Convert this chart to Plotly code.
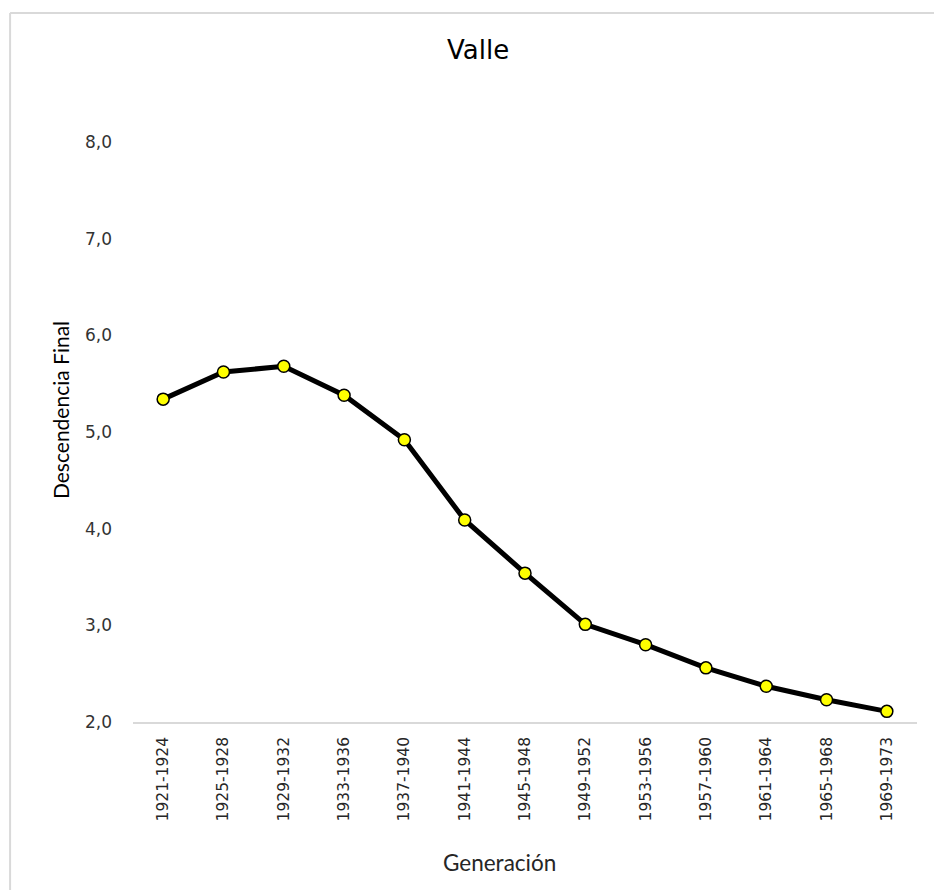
import plotly.graph_objects as go

# Cohort groups (generation) and completed fertility
generaciones = ["1921-1924", "1925-1928", "1929-1932", "1933-1936", "1937-1940",
                "1941-1944", "1945-1948", "1949-1952", "1953-1956", "1957-1960",
                "1961-1964", "1965-1968", "1969-1973"]
descendencia = [5.34, 5.62, 5.68, 5.38, 4.92, 4.09, 3.54, 3.01, 2.80, 2.56, 2.37, 2.23, 2.11]

y_ticks = [2, 3, 4, 5, 6, 7, 8]
y_tick_text = ["2,0", "3,0", "4,0", "5,0", "6,0", "7,0", "8,0"]

W, H = 934, 890
L, R, T, B = 133, 16.5, 142, 168
PW, PH = W - L - R, H - T - B


def px(xp):
    return (xp - L) / PW


def py(yp):
    return (H - B - yp) / PH


fig = go.Figure()
fig.add_trace(go.Scatter(
    x=generaciones, y=descendencia, mode="lines+markers",
    line=dict(color="#000000", width=5),
    marker=dict(size=12, color="#FFFF00", line=dict(color="#000000", width=1.5)),
    showlegend=False, hoverinfo="x+y",
))

fig.update_layout(
    width=W, height=H,
    margin=dict(l=L, r=R, t=T, b=B, pad=0),
    paper_bgcolor="white", plot_bgcolor="white",
    font=dict(family="DejaVu Sans", color="#404040"),
    xaxis=dict(
        type="category", range=[-0.5, len(generaciones) - 0.5],
        showgrid=False, zeroline=False,
        showline=True, linecolor="#d9d9d9", linewidth=1.5,
        ticks="", tickangle=-90,
        tickfont=dict(family="DejaVu Sans", size=15.5, color="#262626"),
        ticklabelstandoff=7,
    ),
    yaxis=dict(
        range=[2, 8], tickvals=y_ticks, ticktext=y_tick_text,
        showgrid=False, zeroline=False, showline=False, ticks="",
        tickfont=dict(family="DejaVu Sans", size=17, color="#333333"),
        ticklabelstandoff=20,
    ),
    shapes=[
        dict(type="line", xref="paper", yref="paper",
             x0=px(10), x1=px(W + 20), y0=py(13), y1=py(13),
             line=dict(color="#d9d9d9", width=2)),
        dict(type="line", xref="paper", yref="paper",
             x0=px(10), x1=px(10), y0=py(13), y1=py(H + 20),
             line=dict(color="#d9d9d9", width=2)),
    ],
    annotations=[
        dict(text="Valle", xref="paper", yref="paper", x=px(478), y=py(50),
             xanchor="center", yanchor="middle", showarrow=False,
             font=dict(family="DejaVu Sans", size=26, color="#000000")),
        dict(text="Descendencia Final", xref="paper", yref="paper", x=px(60), y=py(410),
             xanchor="center", yanchor="middle", showarrow=False, textangle=-90,
             font=dict(family="Lato", size=21, color="#000000")),
        dict(text="Generación", xref="paper", yref="paper", x=px(500), y=py(862),
             xanchor="center", yanchor="middle", showarrow=False,
             font=dict(family="Lato", size=22.5, color="#262626")),
    ],
)

fig.write_html("out.html")
